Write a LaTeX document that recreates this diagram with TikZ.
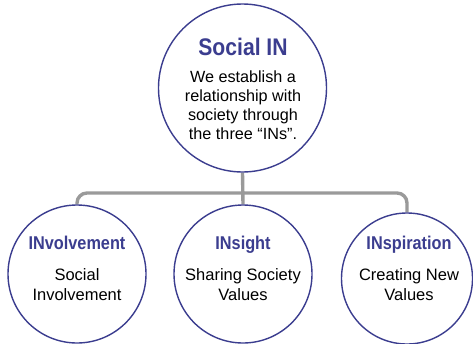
\documentclass[tikz,border=0pt]{standalone}
\usepackage{fontspec}
\setmainfont{Liberation Sans}
\newfontfamily\condbold[FakeStretch=0.88]{Liberation Sans Bold}
\definecolor{navy}{HTML}{3B3D8F}
\definecolor{conn}{HTML}{9A9A9A}
\pgfdeclarelayer{bg}
\pgfsetlayers{bg,main}
\begin{document}
\begin{tikzpicture}[x=1pt,y=-1pt,
  ring/.style={circle,draw=navy,line width=1.4pt,fill=white,inner sep=0pt},
  ttl/.style={text=navy,inner sep=0pt,anchor=base},
  body/.style={text=black,inner sep=0pt,anchor=north,align=center},
  link/.style={draw=conn,line width=3.4pt,rounded corners=10pt}]
\useasboundingbox (0,0) rectangle (473,343);
\node[ring,minimum size=168pt] (top) at (242.5,88) {};
\node[ring,minimum size=138pt] (left) at (77,274) {};
\node[ring,minimum size=138pt] (center) at (243,274) {};
\node[ring,minimum size=131pt] (right) at (407,278.5) {};
\coordinate (mid) at (243,193);
\begin{pgfonlayer}{bg}
\path[link] (left.north) |- (mid) -| (right.north);
\path[link,rounded corners=0pt] (top.south) -- (center.north);
\end{pgfonlayer}
% texts
\node[ttl,font=\condbold\fontsize{24}{28}\selectfont] (t0) at (243,55) {Social IN};
\node[body,font=\fontsize{16.2}{19}\selectfont] (b0) at (243,71) {We establish a\\relationship with\\society through\\the three “INs”.};
\node[ttl,font=\condbold\fontsize{18.5}{22}\selectfont] (t1) at (77,249) {INvolvement};
\node[ttl,font=\condbold\fontsize{18.5}{22}\selectfont] (t2) at (243,249) {INsight};
\node[ttl,font=\condbold\fontsize{18.5}{22}\selectfont] (t3) at (409,249) {INspiration};
\node[body,font=\fontsize{16.5}{20}\selectfont] (b1) at (77,268) {Social\\Involvement};
\node[body,font=\fontsize{16.5}{20}\selectfont] (b2) at (243,268) {Sharing Society\\Values};
\node[body,font=\fontsize{16.5}{20}\selectfont] (b3) at (409,268) {Creating New\\Values};
\end{tikzpicture}
\end{document}
